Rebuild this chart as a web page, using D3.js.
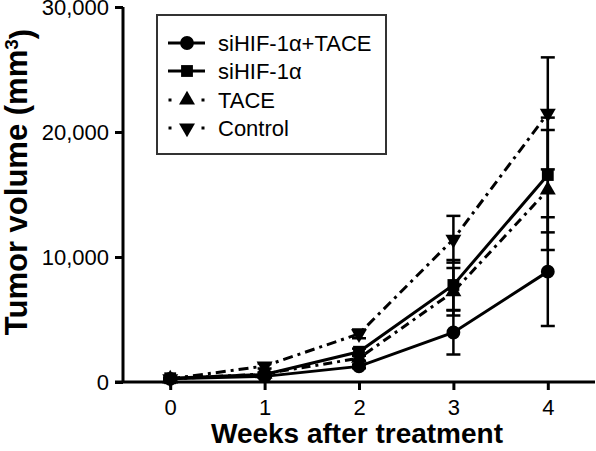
<!DOCTYPE html>
<html>
<head>
<meta charset="utf-8">
<script src="https://cdn.jsdelivr.net/npm/d3@7"></script>
<style>
  html, body { margin: 0; padding: 0; background: #fff; }
  svg { display: block; }
  text { font-family: Arial, "Liberation Sans", Helvetica, sans-serif; fill: #000; }
</style>
</head>
<body>
<svg id="chart" width="596" height="451"></svg>
<script>
// ---- data ----
const weeks = [0, 1, 2, 3, 4];
const seriesNames = ["siHIF-1\u03b1+TACE", "siHIF-1\u03b1", "TACE", "Control"];
const comboMean = [250, 450, 1250, 3960, 8830];
const comboErr = [60, 100, 150, 1760, 4350];
const siHIFMean = [300, 600, 2420, 7760, 16560];
const siHIFErr = [60, 120, 250, 2000, 4590];
const taceMean = [250, 650, 1900, 7220, 15360];
const taceErr = [60, 120, 200, 1900, 4800];
const controlMean = [250, 1280, 3850, 11420, 21490];
const controlErr = [60, 200, 350, 1870, 4480];
const yTicks = [0, 10000, 20000, 30000];
const xTicks = [0, 1, 2, 3, 4];

const series = [
  { name: seriesNames[0], mean: comboMean, err: comboErr, symbol: d3.symbolCircle, dash: null },
  { name: seriesNames[1], mean: siHIFMean, err: siHIFErr, symbol: d3.symbolSquare, dash: null },
  { name: seriesNames[2], mean: taceMean, err: taceErr, symbol: d3.symbolTriangle, dash: "9,5,3,5" },
  { name: seriesNames[3], mean: controlMean, err: controlErr, symbol: "down", dash: "10,5,3,5" }
];

const svg = d3.select("#chart");
const x = d3.scaleLinear().domain([-0.5, 4.5]).range([123, 595]);
const y = d3.scaleLinear().domain([0, 30000]).range([382, 7]);

// axes
const yAxis = d3.axisLeft(y).tickValues(yTicks).tickSize(8).tickPadding(6)
  .tickFormat(d3.format(","));
const gy = svg.append("g").attr("transform", "translate(123,0)").call(yAxis);
gy.select(".domain").attr("d", `M0,${y(30000)}V${y(0)}`);
const xAxis = d3.axisBottom(x).tickValues(xTicks).tickSize(8).tickPadding(9)
  .tickFormat(d3.format("d"));
const gx = svg.append("g").attr("transform", "translate(0,382)").call(xAxis);
gx.select(".domain").attr("d", `M115,0H595`);
[gx, gy].forEach(g => {
  g.selectAll(".domain, .tick line").attr("stroke", "#000").attr("stroke-width", 3);
  g.selectAll("text").style("font-size", "22px").attr("fill", "#000");
});
gy.selectAll(".tick text").attr("dy", "0.36em");

// axis titles
svg.append("text").attr("x", 357).attr("y", 443).attr("text-anchor", "middle")
  .style("font-size", "28px").style("font-weight", "bold").text("Weeks after treatment");
const yt = svg.append("text").attr("transform", "translate(27,182) rotate(-90)")
  .attr("text-anchor", "middle").style("font-size", "31px").style("font-weight", "bold");
yt.append("tspan").text("Tumor volume (mm");
yt.append("tspan").attr("dy", "-0.45em").style("font-size", "19px").text("3");
yt.append("tspan").attr("dy", "0.45em").text(")");

// symbol helper
function symPath(s, size) {
  if (s === "down") return d3.symbol().type(d3.symbolTriangle).size(size)();
  return d3.symbol().type(s).size(size)();
}
function symTransform(s, px, py) {
  return s === "down" ? `translate(${px},${py}) rotate(180)` : `translate(${px},${py})`;
}
function sizeFor(s) { return s === d3.symbolCircle ? 150 : s === d3.symbolSquare ? 140 : 110; }

const line = d3.line().x((d, i) => x(weeks[i])).y(d => y(d));

// draw series (back to front)
series.slice().reverse().forEach(s => {
  const g = svg.append("g");
  s.mean.forEach((m, i) => {
    const cx = x(weeks[i]);
    const top = y(m + s.err[i]), bot = y(Math.max(0, m - s.err[i]));
    g.append("line").attr("x1", cx).attr("x2", cx).attr("y1", top).attr("y2", bot)
      .attr("stroke", "#000").attr("stroke-width", 2.5);
    [top, bot].forEach(yy => g.append("line").attr("x1", cx - 7).attr("x2", cx + 7)
      .attr("y1", yy).attr("y2", yy).attr("stroke", "#000").attr("stroke-width", 2.5));
  });
  g.append("path").datum(s.mean).attr("d", line).attr("fill", "none")
    .attr("stroke", "#000").attr("stroke-width", 3)
    .attr("stroke-dasharray", s.dash);
  s.mean.forEach((m, i) => {
    g.append("path").attr("d", symPath(s.symbol, sizeFor(s.symbol)))
      .attr("transform", symTransform(s.symbol, x(weeks[i]), y(m))).attr("fill", "#000");
  });
});

// legend
const lg = svg.append("g");
lg.append("rect").attr("x", 157).attr("y", 15).attr("width", 229).attr("height", 139)
  .attr("fill", "#fff").attr("stroke", "#333").attr("stroke-width", 2);
const rowY = [43, 71, 100, 128];
series.forEach((s, i) => {
  const yy = rowY[i];
  if (s.dash) {
    [170, 203].forEach(dx => lg.append("rect").attr("x", dx - 1.5).attr("y", yy - 1.5)
      .attr("width", 3).attr("height", 3).attr("fill", "#000"));
  } else {
    lg.append("line").attr("x1", 168).attr("x2", 205).attr("y1", yy).attr("y2", yy)
      .attr("stroke", "#000").attr("stroke-width", 3);
  }
  lg.append("path").attr("d", symPath(s.symbol, sizeFor(s.symbol)))
    .attr("transform", symTransform(s.symbol, 187, yy)).attr("fill", "#000");
  lg.append("text").attr("x", 218).attr("y", yy).attr("dy", "0.36em")
    .style("font-size", "22px").text(s.name);
});
</script>
</body>
</html>
